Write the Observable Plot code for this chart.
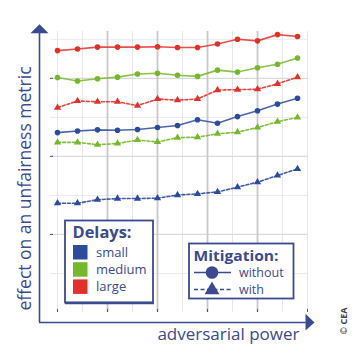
<!DOCTYPE html>
<html>
<head>
<meta charset="utf-8">
<script src="https://cdn.jsdelivr.net/npm/d3@7"></script>
<script src="https://cdn.jsdelivr.net/npm/@observablehq/plot@0.6"></script>
<style>
  html, body { margin: 0; padding: 0; background: #fff; }
  #wrap { position: relative; width: 363px; height: 364px; overflow: hidden; }
  #wrap > svg { position: absolute; left: 0; top: 0; }
</style>
</head>
<body>
<div id="wrap"></div>
<script>
// ---- data ----
const power = [0, 0.8, 1.6, 2.4, 3.2, 4.0, 4.8, 5.6, 6.4, 7.2, 8.0, 8.8, 9.6];
const delays = ["small", "medium", "large"];
const delayColors = ["#2d4b9c", "#76b82b", "#e5302a"];
const mitigations = ["without", "with"];

const smallWithout  = [4.61, 4.65, 4.68, 4.67, 4.69, 4.74, 4.79, 4.94, 4.85, 5.02, 5.17, 5.34, 5.49];
const mediumWithout = [6.02, 5.93, 5.99, 6.03, 6.11, 6.13, 6.08, 6.05, 6.21, 6.16, 6.27, 6.36, 6.52];
const largeWithout  = [6.71, 6.75, 6.80, 6.80, 6.80, 6.81, 6.79, 6.79, 6.88, 7.00, 6.96, 7.12, 7.07];
const smallWith     = [2.80, 2.80, 2.89, 2.92, 2.92, 2.93, 3.01, 3.04, 3.09, 3.21, 3.34, 3.51, 3.68];
const mediumWith    = [4.36, 4.36, 4.30, 4.33, 4.42, 4.37, 4.48, 4.49, 4.58, 4.62, 4.74, 4.89, 5.00];
const largeWith     = [5.25, 5.42, 5.40, 5.40, 5.30, 5.47, 5.44, 5.47, 5.70, 5.71, 5.72, 5.86, 6.03];

const xGridMajor = [2, 4, 6, 8];
const xGridMinor = [0, 1, 3, 5, 7, 9, 10];
const yGridMajor = [2, 4, 6];
const yGridMinor = [1, 3, 5, 7];
const xTicks = [0, 2, 4, 6, 8, 10];
const yTicks = [2, 4, 6];

const xLabel = "adversarial power";
const yLabel = "effect on an unfairness metric";
const legendDelaysTitle = "Delays:";
const legendMitigationTitle = "Mitigation:";
const credit = "© CEA";

// axis-arrow decoration (in data units)
const yAxisLine = [{x: -0.72, y1: -0.256, y2: 7.16}];
const xAxisLine = [{y: -0.256, x1: -0.72, x2: 9.95}];
const yArrowHead = [{x: -0.72, y: 7.385}, {x: -1.08, y: 7.154}, {x: -0.36, y: 7.154}];
const xArrowHead = [{x: 10.28, y: -0.256}, {x: 9.92, y: -0.03}, {x: 9.92, y: -0.46}];

// ---- tidy table ----
const series = [
  {delay: "small", mit: "without", values: smallWithout},
  {delay: "medium", mit: "without", values: mediumWithout},
  {delay: "large", mit: "without", values: largeWithout},
  {delay: "small", mit: "with", values: smallWith},
  {delay: "medium", mit: "with", values: mediumWith},
  {delay: "large", mit: "with", values: largeWith}
];
const rows = series.flatMap(s => s.values.map((v, i) => ({x: power[i], y: v, delay: s.delay, mit: s.mit, key: s.delay + "-" + s.mit})));
const without = rows.filter(d => d.mit === "without");
const withM = rows.filter(d => d.mit === "with");

const navy = "#3c4a8f";
const font = "'Open Sans', 'DejaVu Sans', sans-serif";

const chart = Plot.plot({
  width: 363,
  height: 364,
  marginLeft: 50,
  marginRight: 56,
  marginTop: 31,
  marginBottom: 52,
  x: {domain: [-0.28, 10], axis: null},
  y: {domain: [0, 7.2], axis: null},
  color: {domain: delays, range: delayColors},
  style: {fontFamily: font, background: "white", overflow: "visible"},
  marks: [
    Plot.ruleY(yGridMinor, {stroke: "#ebebeb", strokeWidth: 1}),
    Plot.ruleX(xGridMinor, {stroke: "#e6e6e6", strokeWidth: 1}),
    Plot.ruleY(yGridMajor, {stroke: "#dadada", strokeWidth: 1.3}),
    Plot.ruleX(xGridMajor, {stroke: "#c9c9c9", strokeWidth: 1.8}),
    Plot.ruleX(xTicks, {y1: 0, y2: 0.08, stroke: "#555", strokeWidth: 1}),
    Plot.ruleY(yTicks, {x1: -0.28, x2: -0.16, stroke: "#555", strokeWidth: 1}),
    Plot.line(withM, {x: "x", y: "y", z: "key", stroke: "delay", strokeWidth: 1.6, strokeDasharray: "3,2", strokeOpacity: 0.9}),
    Plot.line(without, {x: "x", y: "y", z: "key", stroke: "delay", strokeWidth: 1.6, strokeOpacity: 0.85}),
    Plot.dot(withM, {x: "x", y: "y", fill: "delay", symbol: "triangle", r: 2.7}),
    Plot.dot(without, {x: "x", y: "y", fill: "delay", symbol: "circle", r: 2.8}),
    Plot.ruleX(yAxisLine, {x: "x", y1: "y1", y2: "y2", stroke: navy, strokeWidth: 1.6}),
    Plot.ruleY(xAxisLine, {y: "y", x1: "x1", x2: "x2", stroke: navy, strokeWidth: 1.6}),
    Plot.line(yArrowHead, {x: "x", y: "y", fill: navy, stroke: "none"}),
    Plot.line(xArrowHead, {x: "x", y: "y", fill: navy, stroke: "none"}),
    Plot.text([xLabel], {text: d => d, frameAnchor: "bottom-right", dx: -8, dy: 22, textAnchor: "end", lineAnchor: "middle", fontSize: 17, fill: navy}),
    Plot.text([yLabel], {text: d => d, frameAnchor: "left", rotate: -90, dx: -25.6, dy: 16.5, textAnchor: "middle", lineAnchor: "middle", fontSize: 17.5, fill: navy})
  ]
});

const wrap = document.getElementById("wrap");
wrap.appendChild(chart);

// ---- legends overlay (built from the same arrays) ----
const ov = d3.select(wrap).append("svg")
  .attr("width", 363).attr("height", 364)
  .style("position", "absolute").style("left", 0).style("top", 0)
  .style("font-family", font);

// Delays box
ov.append("rect").attr("x", 65).attr("y", 220.5).attr("width", 88).attr("height", 82)
  .attr("fill", "white").attr("stroke", navy).attr("stroke-width", 1.8);
ov.append("line").attr("x1", 65).attr("x2", 154).attr("y1", 303).attr("y2", 303)
  .attr("stroke", navy).attr("stroke-width", 2.4);
ov.append("text").attr("x", 72.5).attr("y", 238).attr("font-size", 16).attr("font-weight", 700)
  .attr("textLength", 59).attr("lengthAdjust", "spacingAndGlyphs")
  .attr("fill", navy).text(legendDelaysTitle);
delays.forEach((d, i) => {
  const y0 = 245 + i * 17.2;
  ov.append("rect").attr("x", 73).attr("y", y0).attr("width", 14.5).attr("height", 14.5).attr("fill", delayColors[i]);
  ov.append("text").attr("x", 96).attr("y", y0 + 11.5).attr("font-size", 13).attr("fill", navy).text(d);
});

// Mitigation box
ov.append("rect").attr("x", 189).attr("y", 243.5).attr("width", 104.5).attr("height", 55)
  .attr("fill", "white").attr("stroke", navy).attr("stroke-width", 1.8);
ov.append("text").attr("x", 193.5).attr("y", 260.5).attr("font-size", 15).attr("font-weight", 700)
  .attr("textLength", 85).attr("lengthAdjust", "spacingAndGlyphs")
  .attr("fill", navy).text(legendMitigationTitle);
mitigations.forEach((m, i) => {
  const yy = 272.5 + i * 17;
  ov.append("line").attr("x1", 194).attr("x2", 231).attr("y1", yy).attr("y2", yy)
    .attr("stroke", navy).attr("stroke-width", 1.3).attr("stroke-dasharray", i ? "4,2.5" : null);
  if (i === 0) {
    ov.append("circle").attr("cx", 212).attr("cy", yy).attr("r", 6.3).attr("fill", navy);
  } else {
    ov.append("path").attr("d", d3.symbol(d3.symbolTriangle, 95)()).attr("transform", `translate(212,${yy + 0.5})`).attr("fill", navy);
  }
  ov.append("text").attr("x", 239).attr("y", yy + 4).attr("font-size", 12.5).attr("fill", navy).text(m);
});

// credit
ov.append("text").attr("transform", "translate(347,321) rotate(-90)").attr("text-anchor", "middle")
  .attr("font-size", 9).attr("font-weight", 700).attr("fill", "#444").text(credit);
</script>
</body>
</html>
